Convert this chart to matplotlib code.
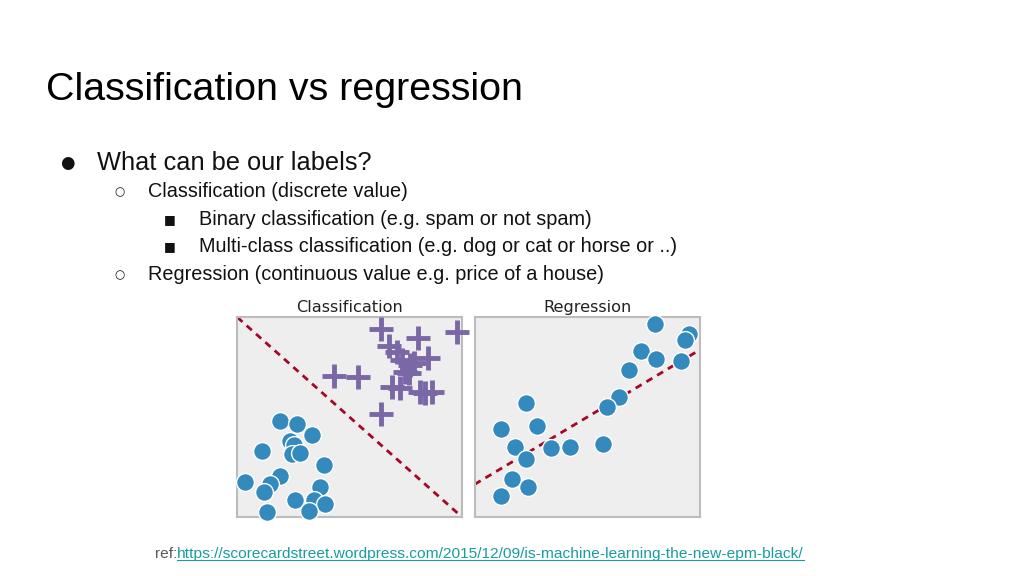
import matplotlib
matplotlib.use("Agg")
import matplotlib.pyplot as plt
from matplotlib.lines import Line2D

# Pontos da classificação (classe "círculo" e classe "cruz")
circ_x = [1.91, 2.65, 3.32, 2.36, 2.50, 2.43, 2.80, 1.10, 3.84, 1.91,
          1.44, 1.17, 0.36, 3.69, 2.58, 3.39, 3.91, 1.32, 3.17]
circ_y = [4.83, 4.66, 4.13, 3.80, 3.63, 3.17, 3.22, 3.33, 2.60, 2.05,
          1.68, 1.28, 1.78, 1.51, 0.85, 0.85, 0.68, 0.28, 0.31]
plus_x = [6.39, 9.76, 8.01, 6.72, 8.46, 7.10, 7.32, 7.69, 7.61, 7.47,
          7.84, 4.28, 5.35, 6.88, 7.24, 8.13, 8.65, 8.36, 6.40]
plus_y = [9.44, 9.24, 8.97, 8.57, 7.98, 8.27, 7.86, 7.61, 7.20, 7.28,
          7.70, 7.06, 7.00, 6.53, 6.45, 6.28, 6.28, 6.20, 5.17]
bound_x = [0, 10]
bound_y = [10, 0]

# Pontos da regressão
reg_x = [8.00, 9.51, 9.33, 7.38, 8.07, 9.18, 6.86, 6.41, 5.89, 2.27,
         1.16, 2.78, 1.78, 3.38, 4.22, 5.70, 2.27, 1.67, 2.37, 1.18]
reg_y = [9.65, 9.15, 8.87, 8.33, 7.90, 7.82, 7.37, 6.03, 5.53, 5.73,
         4.42, 4.58, 3.53, 3.48, 3.50, 3.67, 2.92, 1.90, 1.50, 1.05]
fit_x = [0, 10]
fit_y = [1.65, 8.37]

W, H = 1024, 576
fig = plt.figure(figsize=(W / 100, H / 100), dpi=100)
fig.patch.set_facecolor("white")

def fx(px):
    return px / W

def fy(py):
    return 1 - py / H

sans = ["Liberation Sans", "DejaVu Sans"]
ink = "#111111"

# Título do slide
fig.text(fx(46), fy(100), "Classification vs regression", fontsize=28.4,
         family=sans, color="black", va="baseline")

# Tópicos: (x do marcador, x do texto, linha de base, marcador, texto, tamanho, tamanho do marcador)
bullets = [
    (60, 97, 170, "●", "What can be our labels?", 18.3, 12),
    (114, 148, 197, "○", "Classification (discrete value)", 14.3, 8.5),
    (164, 199, 225, "■", "Binary classification (e.g. spam or not spam)", 14.3, 9),
    (164, 199, 252, "■", "Multi-class classification (e.g. dog or cat or horse or ..)", 14.3, 9),
    (114, 148, 280, "○", "Regression (continuous value e.g. price of a house)", 14.3, 8.5),
]
for bx, tx, by, sym, txt, fs, bfs in bullets:
    fig.text(fx(bx), fy(by - 2), sym, fontsize=bfs, family="DejaVu Sans", color=ink, va="baseline")
    fig.text(fx(tx), fy(by), txt, fontsize=fs, family=sans, color=ink, va="baseline")

blue = "#348ABD"
purple = "#7A68A6"
red = "#A60628"

def style_ax(ax, title):
    ax.set_facecolor("#EEEEEE")
    ax.set_xlim(0, 10)
    ax.set_ylim(0, 10)
    ax.set_xticks([])
    ax.set_yticks([])
    for s in ax.spines.values():
        s.set_color("#BCBCBC")
        s.set_linewidth(1.5)
    ax.set_title(title, fontsize=11.6, family="DejaVu Sans", pad=3.8, color="#222222")

# Classificação
ax1 = fig.add_axes([fx(237.3), fy(517.3), 225 / W, 200 / H])
style_ax(ax1, "Classification")
ax1.plot(bound_x, bound_y, ls=(0, (2.5, 2)), color=red, lw=2, zorder=1)
ax1.scatter(circ_x, circ_y, s=165, color=blue, edgecolor="white", linewidth=1, zorder=3, clip_on=False)
ax1.scatter(plus_x, plus_y, s=320, marker="+", color=purple, linewidth=3.5, zorder=3, clip_on=False)

# Regressão
ax2 = fig.add_axes([fx(474.7), fy(517.3), 225 / W, 200 / H])
style_ax(ax2, "Regression")
ax2.plot(fit_x, fit_y, ls=(0, (2.5, 2)), color=red, lw=2, zorder=1)
ax2.scatter(reg_x, reg_y, s=165, color=blue, edgecolor="white", linewidth=1, zorder=3, clip_on=False)

# Referência
t_ref = fig.text(fx(155), fy(558), "ref:", fontsize=11.15, family=sans, color="#595959", va="baseline")
fig.canvas.draw()
bb = t_ref.get_window_extent()
url = fig.text(bb.x1 / W, fy(558), "https://scorecardstreet.wordpress.com/2015/12/09/is-machine-learning-the-new-epm-black/",
               fontsize=11.15, family=sans, color="#1A9BA0", va="baseline")
fig.canvas.draw()
ub = url.get_window_extent()
fig.add_artist(Line2D([ub.x0 / W, ub.x1 / W], [fy(560), fy(560)], color="#1A9BA0", lw=0.8))

fig.savefig("out.png", dpi=100, facecolor="white")
